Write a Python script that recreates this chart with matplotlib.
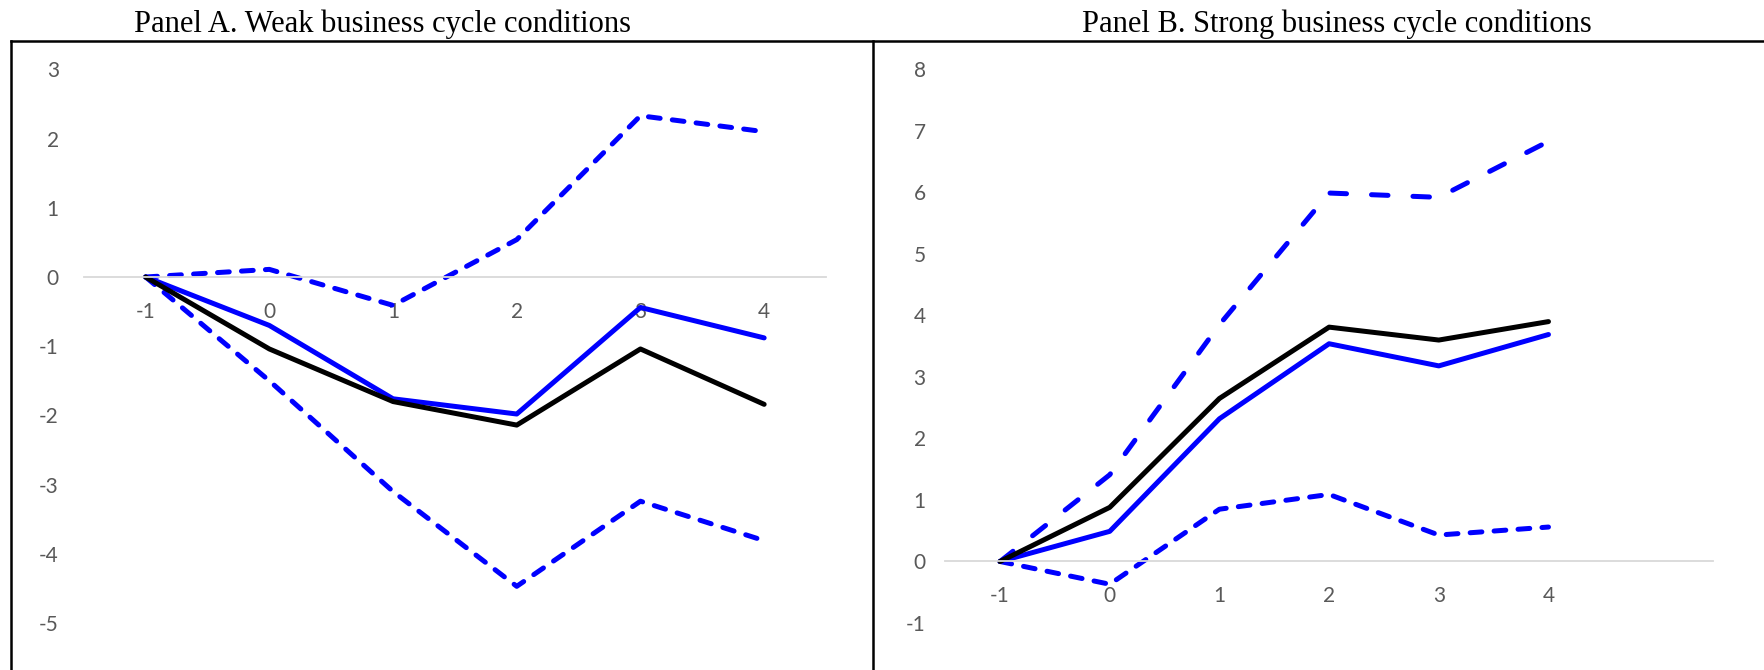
import matplotlib
matplotlib.use("Agg")
import matplotlib.pyplot as plt
from matplotlib.lines import Line2D

# horizons (event time)
horizons = [-1, 0, 1, 2, 3, 4]

# Panel A - weak business cycle conditions
a_point = [0, -1.04, -1.80, -2.14, -1.04, -1.84]
a_blue = [0, -0.70, -1.76, -1.98, -0.44, -0.88]
a_upper = [0, 0.11, -0.41, 0.54, 2.33, 2.10]
a_lower = [0, -1.50, -3.10, -4.47, -3.24, -3.81]

# Panel B - strong business cycle conditions
b_point = [0, 0.88, 2.65, 3.81, 3.60, 3.90]
b_blue = [0, 0.49, 2.32, 3.54, 3.18, 3.69]
b_upper = [0, 1.41, 3.85, 5.99, 5.92, 6.83]
b_lower = [0, -0.37, 0.85, 1.09, 0.43, 0.56]

a_yticks = [3, 2, 1, 0, -1, -2, -3, -4, -5]
b_yticks = [8, 7, 6, 5, 4, 3, 2, 1, 0, -1]

BLUE = "#0000ff"
GRAY = "#595959"
W, H = 1765, 670

fig = plt.figure(figsize=(W / 100, H / 100), dpi=100)

def px_axes(x0, x1, y0, y1):
    return fig.add_axes([x0 / W, (H - y1) / H, (x1 - x0) / W, (y1 - y0) / H])

axA = px_axes(83.8, 826, 69.4, 623)
axB = px_axes(945.2, 1713, 69.4, 623)

LW = 3.6
short_dash = (2.35, 2.45)
long_dash = (3.3, 5.0)

def style_axis(ax, ylim, yticks, xlim, ypad):
    ax.set_xlim(*xlim)
    ax.set_ylim(*ylim)
    for s in ["top", "right", "left"]:
        ax.spines[s].set_visible(False)
    ax.spines["bottom"].set_position(("data", 0))
    ax.spines["bottom"].set_color("#d9d9d9")
    ax.spines["bottom"].set_linewidth(1.3)
    ax.set_xticks(horizons)
    ax.set_xticklabels([str(h) for h in horizons])
    ax.set_yticks(yticks)
    ax.set_yticklabels([str(v) for v in yticks])
    ax.tick_params(axis="x", length=0, pad=18, labelsize=15, labelcolor=GRAY)
    ax.tick_params(axis="y", length=0, pad=ypad, labelsize=15, labelcolor=GRAY)
    for lab in ax.get_xticklabels() + ax.get_yticklabels():
        lab.set_fontfamily("Lato")
    ax.patch.set_alpha(0)

def draw_lines(ax, point, blue, upper, lower, upper_dash):
    ax.plot(horizons, upper, color=BLUE, lw=LW, dashes=upper_dash,
            dash_capstyle="round", solid_joinstyle="round")
    ax.plot(horizons, lower, color=BLUE, lw=LW, dashes=short_dash,
            dash_capstyle="round", solid_joinstyle="round")
    ax.plot(horizons, blue, color=BLUE, lw=LW, solid_capstyle="round",
            solid_joinstyle="round")
    ax.plot(horizons, point, color="black", lw=LW, solid_capstyle="round",
            solid_joinstyle="round")

style_axis(axA, (-5, 3), a_yticks, (-1.5, 4.5), 18)
style_axis(axB, (-1, 8), b_yticks, (-1.5, 5.5), 14)
draw_lines(axA, a_point, a_blue, a_upper, a_lower, short_dash)
draw_lines(axB, b_point, b_blue, b_upper, b_lower, long_dash)

# frame lines around the two panels
top_y = (H - 41) / H
fig.add_artist(Line2D([11 / W, 1.0], [top_y, top_y], color="black", lw=1.8))
fig.add_artist(Line2D([11 / W, 11 / W], [0, top_y], color="black", lw=1.8))
fig.add_artist(Line2D([873 / W, 873 / W], [0, top_y], color="black", lw=1.8))

# panel titles
fig.text(382 / W, (H - 31.7) / H, "Panel A. Weak business cycle conditions",
         ha="center", va="baseline", fontsize=22, family="Liberation Serif")
fig.text(1337 / W, (H - 31.7) / H, "Panel B. Strong business cycle conditions",
         ha="center", va="baseline", fontsize=22, family="Liberation Serif")

fig.savefig("out.png", dpi=100)
